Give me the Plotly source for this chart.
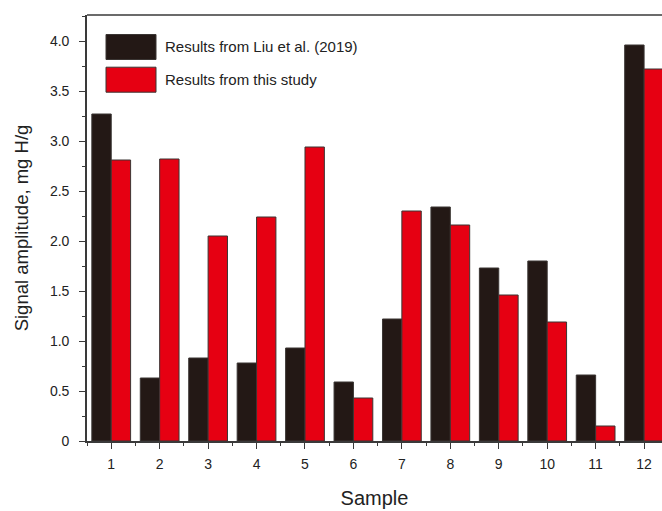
import plotly.graph_objects as go

# Sample numbers and signal amplitudes (mg H/g)
samples = [1, 2, 3, 4, 5, 6, 7, 8, 9, 10, 11, 12]
liu_2019 = [3.27, 0.63, 0.83, 0.78, 0.93, 0.59, 1.22, 2.34, 1.73, 1.80, 0.66, 3.96]
this_study = [2.81, 2.82, 2.05, 2.24, 2.94, 0.43, 2.30, 2.16, 1.46, 1.19, 0.15, 3.72]

series_names = ["Results from Liu et al. (2019)", "Results from this study"]
y_tick_vals = [0, 0.5, 1.0, 1.5, 2.0, 2.5, 3.0, 3.5, 4.0]
y_tick_text = ["0", "0.5", "1.0", "1.5", "2.0", "2.5", "3.0", "3.5", "4.0"]

BLACK = "#231815"
RED = "#e60012"
EDGE = "#3a3533"
AXIS = "#3a3a3a"
FONT = "Liberation Sans, Arial, sans-serif"

fig = go.Figure()
fig.add_trace(go.Bar(x=samples, y=liu_2019, name=series_names[0],
                     marker=dict(color=BLACK, line=dict(color=EDGE, width=1))))
fig.add_trace(go.Bar(x=samples, y=this_study, name=series_names[1],
                     marker=dict(color=RED, line=dict(color=EDGE, width=1))))

W, H = 662, 511
ML, MR, MT, MB = 87, 0, 15, 70

fig.update_layout(
    width=W, height=H,
    margin=dict(l=ML, r=MR, t=MT, b=MB),
    paper_bgcolor="white", plot_bgcolor="white",
    barmode="group", bargap=0.2, bargroupgap=0,
    showlegend=False,
    font=dict(family=FONT, color="#222222"),
)

fig.update_xaxes(
    range=[0.5, 12.37], tickmode="linear", tick0=1, dtick=1,
    ticks="outside", ticklen=6, tickwidth=1.3, tickcolor=AXIS,
    minor=dict(tickmode="linear", tick0=0.5, dtick=1, ticks="outside",
               ticklen=3, tickwidth=1.3, tickcolor=AXIS),
    showline=True, linecolor=AXIS, linewidth=1.6,
    showgrid=False, zeroline=False,
    tickfont=dict(size=14, family=FONT, color="#222222"),
    ticklabelstandoff=3,
    title=dict(text="Sample", font=dict(size=20, family=FONT, color="#222222"),
               standoff=20),
)
fig.update_yaxes(
    range=[0, 4.26], tickmode="array", tickvals=y_tick_vals, ticktext=y_tick_text,
    ticks="outside", ticklen=6, tickwidth=1.3, tickcolor=AXIS,
    minor=dict(tickmode="linear", tick0=0.25, dtick=0.5, ticks="outside",
               ticklen=3, tickwidth=1.3, tickcolor=AXIS),
    showline=True, linecolor=AXIS, linewidth=1.6,
    showgrid=False, zeroline=False,
    tickfont=dict(size=14, family=FONT, color="#222222"),
    ticklabelstandoff=7,
    title=dict(text="Signal amplitude, mg H/g",
               font=dict(size=18.5, family=FONT, color="#222222"), standoff=16),
)

# Top frame line
fig.add_shape(type="line", xref="paper", yref="paper", x0=0, x1=1, y0=1, y1=1,
              line=dict(color=AXIS, width=1.6))

# Legend with wide swatches, placed in the upper-left of the plot area
pw, ph = W - ML - MR, H - MT - MB


def px_x(x):
    return (x - ML) / pw


def px_y(y):
    return 1 - (y - MT) / ph


for i, (name, col) in enumerate(zip(series_names, [BLACK, RED])):
    top = 34.5 + i * 32.7
    fig.add_shape(type="rect", xref="paper", yref="paper",
                  x0=px_x(106), x1=px_x(156), y0=px_y(top + 25), y1=px_y(top),
                  fillcolor=col, line=dict(color=EDGE, width=1))
    fig.add_annotation(xref="paper", yref="paper", x=px_x(163), y=px_y(top + 12.5),
                       text=name, showarrow=False, xanchor="left", yanchor="middle",
                       font=dict(size=15, family=FONT, color="#222222"))

fig.write_html("out.html")
